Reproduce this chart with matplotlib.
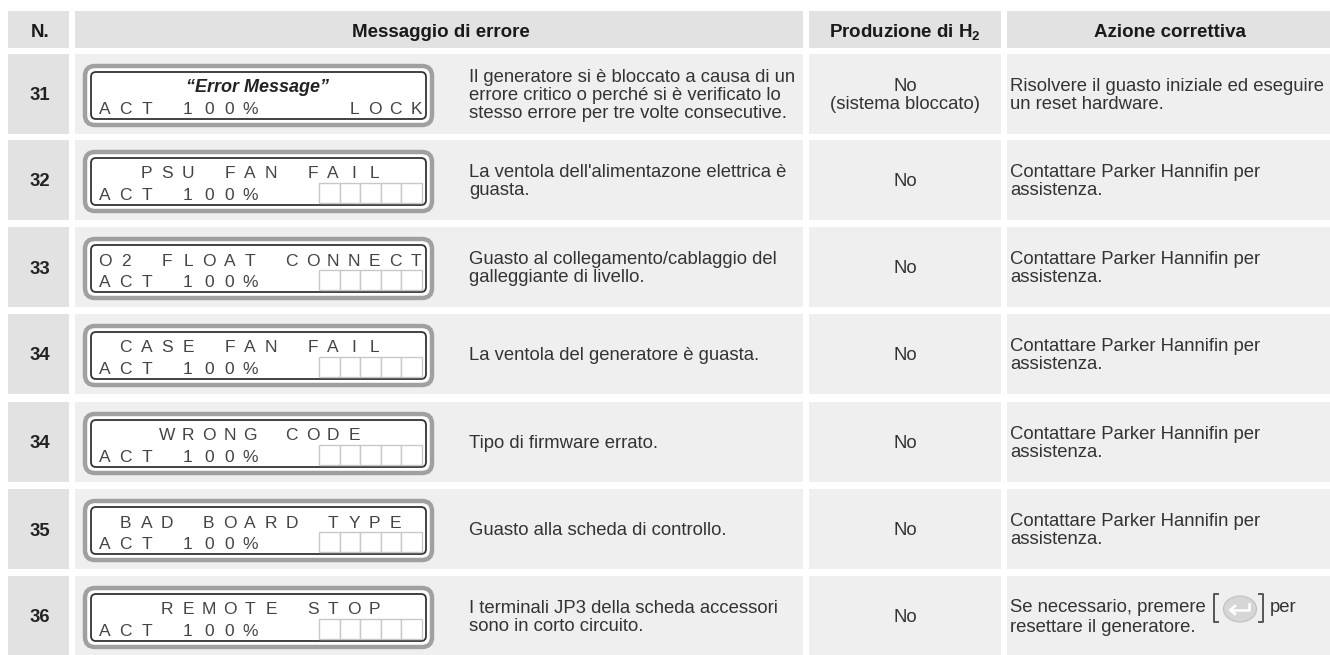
import matplotlib
matplotlib.use('Agg')
import matplotlib.pyplot as plt
from matplotlib.patches import Rectangle, FancyBboxPatch, Ellipse

plt.rcParams['font.family'] = ['Liberation Sans', 'DejaVu Sans']
plt.rcParams['mathtext.fontset'] = 'custom'
plt.rcParams['mathtext.bf'] = 'Liberation Sans:bold'

# contenuto della tabella
headers = ['N.', 'Messaggio di errore', r'Produzione di H$_{\mathbf{2}}$', 'Azione correttiva']
numbers = ['31', '32', '33', '34', '34', '35', '36']
lcd_top = ['"Error Message"', '  PSU FAN FAIL', 'O2 FLOAT CONNECT', ' CASE FAN FAIL',
           '   WRONG CODE', ' BAD BOARD TYPE', '   REMOTE STOP']
lcd_bottom = 'ACT 100%'
messages = [
    'Il generatore si è bloccato a causa di un\nerrore critico o perché si è verificato lo\nstesso errore per tre volte consecutive.',
    "La ventola dell'alimentazone elettrica è\nguasta.",
    'Guasto al collegamento/cablaggio del\ngalleggiante di livello.',
    'La ventola del generatore è guasta.',
    'Tipo di firmware errato.',
    'Guasto alla scheda di controllo.',
    'I terminali JP3 della scheda accessori\nsono in corto circuito.',
]
production = ['No\n(sistema bloccato)', 'No', 'No', 'No', 'No', 'No', 'No']
contact = 'Contattare Parker Hannifin per\nassistenza.'
actions = ['Risolvere il guasto iniziale ed eseguire\nun reset hardware.', contact, contact, contact,
           contact, contact, 'Se necessario, premere']
action_last_end = 'per'
action_last_line2 = 'resettare il generatore.'

# layout in pixel
col_x = [(8, 69), (75, 803), (809, 1001), (1007, 1330)]
row_top = [54, 140, 227, 314, 402, 489, 576]
row_h = 80
fs = 13.3
lcd_fs = 12.5
txt_col = '#333333'

fig = plt.figure(figsize=(13.3, 6.55), dpi=100)
ax = fig.add_axes([0, 0, 1, 1])
ax.set_xlim(0, 1330)
ax.set_ylim(655, 0)
ax.axis('off')


def cell(x0, x1, y0, y1, color):
    ax.add_patch(Rectangle((x0, y0), x1 - x0, y1 - y0, fc=color, ec='none'))


# intestazione
header_pos = [40, 441, 905, 1170]
for (x0, x1), hx, h in zip(col_x, header_pos, headers):
    cell(x0, x1, 11, 48, '#e2e2e2')
    ax.text(hx, 32.5, h, ha='center', va='center', fontsize=fs + 0.2, fontweight='bold', color='#1a1a1a')

for i, top in enumerate(row_top):
    bottom = min(top + row_h, 655)
    if i == 6:
        bottom = 655
    cy = top + 41.5
    cell(*col_x[0], top, bottom, '#e2e2e2')
    for c in col_x[1:]:
        cell(*c, top, bottom, '#efefef')

    ax.text(40, cy + 0.5, numbers[i], ha='center', va='center', fontsize=fs, fontweight='bold', color='#222222')

    # display LCD
    ly = top + 10
    ax.add_patch(FancyBboxPatch((85, ly + 2), 347, 59, boxstyle='round,pad=0,rounding_size=10',
                                fc='white', ec='#a0a0a0', lw=3.2))
    ax.add_patch(FancyBboxPatch((91, ly + 8), 335, 47, boxstyle='round,pad=0,rounding_size=5',
                                fc='white', ec='#333333', lw=1.3))
    line1 = ly + 24
    line2 = ly + 45.5
    if i == 0:
        ax.text(258, line1 - 1, '\u201cError Message\u201d', ha='center', va='center', fontsize=fs - 0.3,
                fontweight='bold', fontstyle='italic', color='#222222')
    else:
        for k, ch in enumerate(lcd_top[i]):
            ax.text(105 + k * 20.75, line1, ch, ha='center', va='center', fontsize=lcd_fs, color='#444444')
    for k, ch in enumerate(lcd_bottom):
        ax.text(105 + k * 20.75, line2, ch, ha='center', va='center', fontsize=lcd_fs, color='#444444')
    if i == 0:
        for k, ch in enumerate('LOCK'):
            ax.text(105 + (12 + k) * 20.75, line2, ch, ha='center', va='center', fontsize=lcd_fs, color='#444444')
    else:
        for k in range(5):
            ax.add_patch(Rectangle((319 + k * 20.5, ly + 33), 20.5, 20, fc='white', ec='#c8c8c8', lw=1.0))

    ax.text(469, cy, messages[i], ha='left', va='center', fontsize=fs, linespacing=1.1, color=txt_col)
    ax.text(905, cy, production[i], ha='center', va='center', fontsize=fs, linespacing=1.1, color=txt_col)
    if i < 6:
        ax.text(1010, cy, actions[i], ha='left', va='center', fontsize=fs, linespacing=1.1, color=txt_col)

# ultima riga: testo con il tasto invio
ax.text(1010, 608, actions[6], ha='left', va='center', fontsize=fs, color=txt_col)
ax.text(1270, 608, action_last_end, ha='left', va='center', fontsize=fs, color=txt_col)
ax.text(1010, 628, action_last_line2, ha='left', va='center', fontsize=fs, color=txt_col)
ax.add_patch(Ellipse((1240, 609), 33, 26, fc='#d6d6d6', ec='#c0c0c0', lw=0.8))
ax.plot([1218, 1214, 1214, 1218], [594, 594, 622, 622], color='#555555', lw=1.4)
ax.plot([1259, 1263, 1263, 1259], [594, 594, 622, 622], color='#555555', lw=1.4)
ax.plot([1249, 1249, 1231], [604, 610, 610], color='white', lw=1.8)
ax.plot([1235, 1230, 1235], [606, 610, 614], color='white', lw=1.8)

fig.savefig('out.png', dpi=100)
